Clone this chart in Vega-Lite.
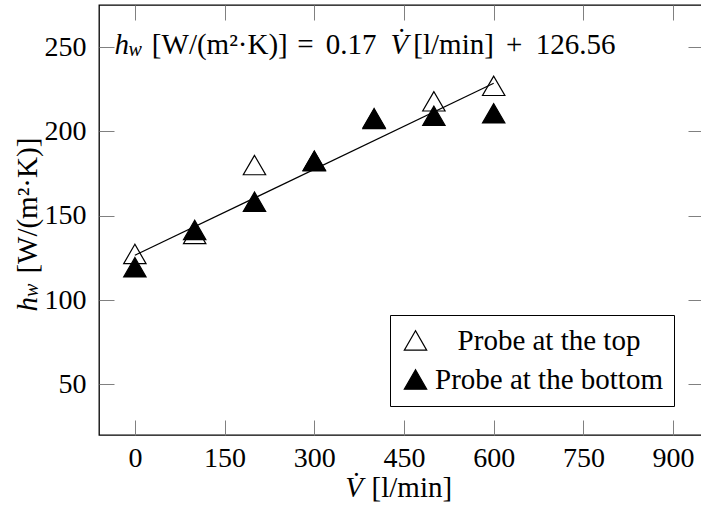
{
  "$schema": "https://vega.github.io/schema/vega-lite/v6.json",
  "width": 604,
  "height": 430,
  "autosize": {"type": "none"},
  "padding": {"left": 99, "top": 5, "right": 0, "bottom": 83},
  "background": "white",
  "config": {
    "view": {"stroke": "black", "strokeWidth": 1.3},
    "font": "Liberation Serif",
    "axis": {
      "labelFont": "Liberation Serif",
      "labelFontSize": 28,
      "labelColor": "black",
      "tickColor": "#808080",
      "tickWidth": 1,
      "tickSize": -15,
      "domain": false,
      "grid": false,
      "title": null
    }
  },
  "datasets": {
    "probes": [
      {"V": 0, "h": 125.3, "probe": "Probe at the top"},
      {"V": 100, "h": 137.1, "probe": "Probe at the top"},
      {"V": 200, "h": 178.0, "probe": "Probe at the top"},
      {"V": 300, "h": 180.3, "probe": "Probe at the top"},
      {"V": 400, "h": 205.8, "probe": "Probe at the top"},
      {"V": 500, "h": 215.8, "probe": "Probe at the top"},
      {"V": 600, "h": 225.0, "probe": "Probe at the top"},
      {"V": 0, "h": 117.4, "probe": "Probe at the bottom"},
      {"V": 100, "h": 139.5, "probe": "Probe at the bottom"},
      {"V": 200, "h": 156.3, "probe": "Probe at the bottom"},
      {"V": 300, "h": 180.6, "probe": "Probe at the bottom"},
      {"V": 400, "h": 205.3, "probe": "Probe at the bottom"},
      {"V": 500, "h": 207.2, "probe": "Probe at the bottom"},
      {"V": 600, "h": 208.7, "probe": "Probe at the bottom"}
    ],
    "fit": [
      {"V": 0, "h": 126.56},
      {"V": 600, "h": 228.56}
    ],
    "one": [{}]
  },
  "layer": [
    {
      "data": {"name": "probes"},
      "mark": {"type": "point", "shape": "triangle-up", "filled": true, "size": 500, "stroke": "black", "strokeWidth": 1.2, "opacity": 1, "yOffset": -3.5},
      "encoding": {
        "x": {"field": "V", "type": "quantitative", "scale": {"domain": [-60, 950], "nice": false, "zero": false}, "axis": {"orient": "bottom", "values": [0, 150, 300, 450, 600, 750, 900], "labelPadding": 24}},
        "y": {"field": "h", "type": "quantitative", "scale": {"domain": [20, 275], "nice": false, "zero": false}, "axis": {"orient": "left", "values": [50, 100, 150, 200, 250], "labelPadding": 28}},
        "fill": {
          "field": "probe", "type": "nominal",
          "scale": {"domain": ["Probe at the top", "Probe at the bottom"], "range": ["white", "black"]},
          "legend": {
            "title": null,
            "orient": "bottom-right",
            "offset": 29,
            "symbolType": "triangle-up",
            "symbolSize": 500,
            "symbolStrokeColor": "black",
            "symbolStrokeWidth": 1.2,
            "symbolOpacity": 1,
            "labelFont": "Liberation Serif",
            "labelFontSize": 29,
            "labelColor": "black",
            "labelAlign": "center",
            "labelOffset": 119,
            "labelLimit": 400,
            "rowPadding": 9,
            "padding": 11,
            "strokeColor": "black",
            "fillColor": "white"
          }
        }
      }
    },
    {
      "data": {"name": "fit"},
      "mark": {"type": "line", "color": "black", "strokeWidth": 1.2},
      "encoding": {
        "x": {"field": "V", "type": "quantitative", "axis": {"orient": "top", "labels": false, "values": [0, 150, 300, 450, 600, 750, 900]}},
        "y": {"field": "h", "type": "quantitative", "axis": {"orient": "right", "labels": false, "values": [50, 100, 150, 200, 250]}}
      }
    },
    {
      "data": {"name": "one"},
      "mark": {"type": "text", "text": "h", "font": "Liberation Serif", "fontStyle": "italic", "fontSize": 29, "align": "left", "baseline": "alphabetic", "color": "black"},
      "encoding": {"x": {"datum": -33.9, "type": "quantitative", "axis": null}, "y": {"datum": 246.1, "type": "quantitative", "axis": null}}
    },
    {
      "data": {"name": "one"},
      "mark": {"type": "text", "text": "w", "font": "Liberation Serif", "fontStyle": "italic", "fontSize": 20, "align": "left", "baseline": "alphabetic", "color": "black"},
      "encoding": {"x": {"datum": -10.5, "type": "quantitative", "axis": null}, "y": {"datum": 245, "type": "quantitative", "axis": null}}
    },
    {
      "data": {"name": "one"},
      "mark": {"type": "text", "text": "[W/(m²·K)]", "font": "Liberation Serif", "fontSize": 29, "align": "left", "baseline": "alphabetic", "color": "black"},
      "encoding": {"x": {"datum": 28.4, "type": "quantitative", "axis": null}, "y": {"datum": 246.1, "type": "quantitative", "axis": null}}
    },
    {
      "data": {"name": "one"},
      "mark": {"type": "text", "text": "=", "font": "Liberation Serif", "fontSize": 29, "align": "left", "baseline": "alphabetic", "color": "black"},
      "encoding": {"x": {"datum": 271.7, "type": "quantitative", "axis": null}, "y": {"datum": 246.1, "type": "quantitative", "axis": null}}
    },
    {
      "data": {"name": "one"},
      "mark": {"type": "text", "text": "0.17", "font": "Liberation Serif", "fontSize": 29, "align": "left", "baseline": "alphabetic", "color": "black"},
      "encoding": {"x": {"datum": 319.2, "type": "quantitative", "axis": null}, "y": {"datum": 246.1, "type": "quantitative", "axis": null}}
    },
    {
      "data": {"name": "one"},
      "mark": {"type": "text", "text": "V̇", "font": "Liberation Serif", "fontStyle": "italic", "fontSize": 29, "align": "left", "baseline": "alphabetic", "color": "black"},
      "encoding": {"x": {"datum": 427.6, "type": "quantitative", "axis": null}, "y": {"datum": 246.1, "type": "quantitative", "axis": null}}
    },
    {
      "data": {"name": "one"},
      "mark": {"type": "text", "text": "[l/min]", "font": "Liberation Serif", "fontSize": 29, "align": "left", "baseline": "alphabetic", "color": "black"},
      "encoding": {"x": {"datum": 465.6, "type": "quantitative", "axis": null}, "y": {"datum": 246.1, "type": "quantitative", "axis": null}}
    },
    {
      "data": {"name": "one"},
      "mark": {"type": "text", "text": "+", "font": "Liberation Serif", "fontSize": 29, "align": "left", "baseline": "alphabetic", "color": "black"},
      "encoding": {"x": {"datum": 620.4, "type": "quantitative", "axis": null}, "y": {"datum": 246.1, "type": "quantitative", "axis": null}}
    },
    {
      "data": {"name": "one"},
      "mark": {"type": "text", "text": "126.56", "font": "Liberation Serif", "fontSize": 29, "align": "right", "baseline": "alphabetic", "color": "black"},
      "encoding": {"x": {"datum": 803.8, "type": "quantitative", "axis": null}, "y": {"datum": 246.1, "type": "quantitative", "axis": null}}
    },
    {
      "data": {"name": "one"},
      "mark": {"type": "text", "text": "h", "font": "Liberation Serif", "fontStyle": "italic", "fontSize": 29, "align": "left", "baseline": "alphabetic", "angle": 270, "color": "black"},
      "encoding": {"x": {"datum": -164.4, "type": "quantitative", "axis": null}, "y": {"datum": 93.3, "type": "quantitative", "axis": null}}
    },
    {
      "data": {"name": "one"},
      "mark": {"type": "text", "text": "w", "font": "Liberation Serif", "fontStyle": "italic", "fontSize": 20, "align": "left", "baseline": "alphabetic", "angle": 270, "color": "black"},
      "encoding": {"x": {"datum": -162, "type": "quantitative", "axis": null}, "y": {"datum": 101.9, "type": "quantitative", "axis": null}}
    },
    {
      "data": {"name": "one"},
      "mark": {"type": "text", "text": "[W/(m²·K)]", "font": "Liberation Serif", "fontSize": 29, "align": "left", "baseline": "alphabetic", "angle": 270, "color": "black"},
      "encoding": {"x": {"datum": -164.4, "type": "quantitative", "axis": null}, "y": {"datum": 115.7, "type": "quantitative", "axis": null}}
    },
    {
      "data": {"name": "one"},
      "mark": {"type": "text", "text": "V̇", "font": "Liberation Serif", "fontStyle": "italic", "fontSize": 29, "align": "left", "baseline": "alphabetic", "color": "black"},
      "encoding": {"x": {"datum": 351.8, "type": "quantitative", "axis": null}, "y": {"datum": -17, "type": "quantitative", "axis": null}}
    },
    {
      "data": {"name": "one"},
      "mark": {"type": "text", "text": "[l/min]", "font": "Liberation Serif", "fontSize": 29, "align": "left", "baseline": "alphabetic", "color": "black"},
      "encoding": {"x": {"datum": 395.8, "type": "quantitative", "axis": null}, "y": {"datum": -17, "type": "quantitative", "axis": null}}
    }
  ],
  "resolve": {"axis": {"x": "independent", "y": "independent"}}
}
